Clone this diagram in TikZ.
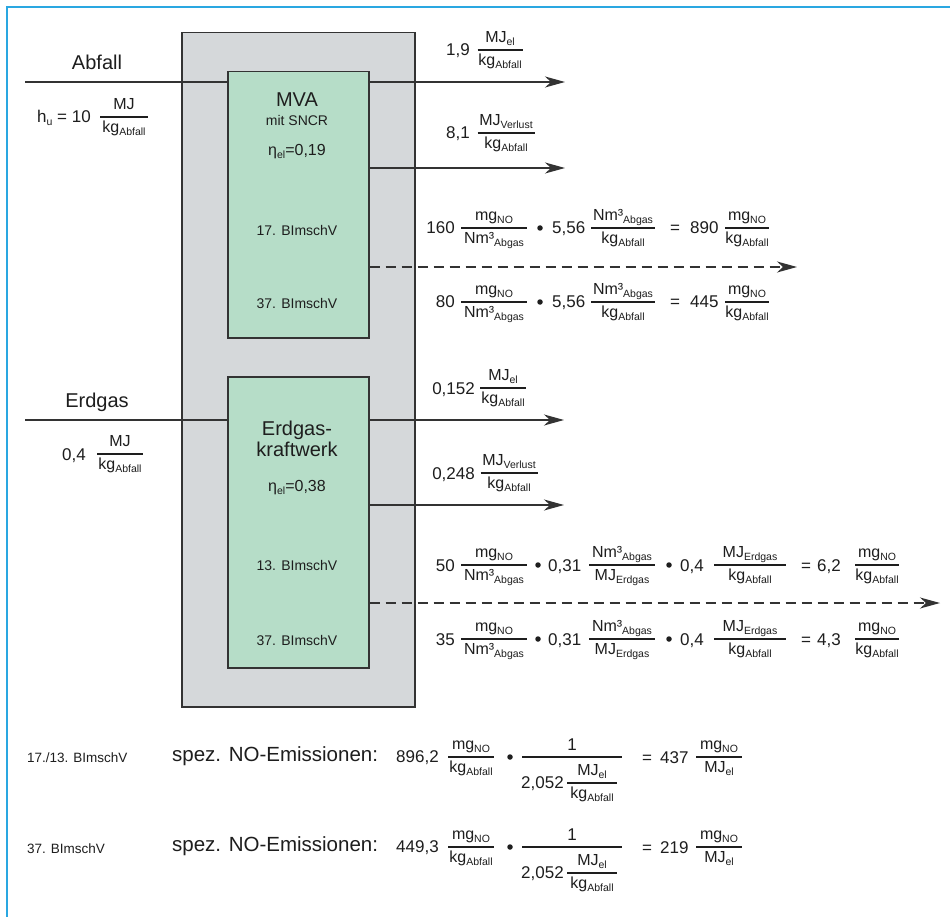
\documentclass[tikz,border=0pt]{standalone}
\usepackage{fontspec}
\setmainfont{Liberation Sans}
\usetikzlibrary{arrows.meta,calc}
\definecolor{frameblue}{HTML}{2AA7E1}
\definecolor{plantgray}{HTML}{D5D8DA}
\definecolor{boxgreen}{HTML}{B6DDC8}
\definecolor{edgegray}{HTML}{333333}
\definecolor{ink}{HTML}{1E1E1E}
\newcommand{\sub}[1]{\raisebox{-3pt}{\fontsize{10.5}{12}\selectfont #1}}
\newcommand{\fr}[3]{{\renewcommand\arraystretch{0}\setlength\arrayrulewidth{1.2pt}\fontsize{16}{18}\selectfont\begin{tabular}{@{}c@{}}\rule[-7pt]{0pt}{29pt}\makebox[#1]{#2}\\\hline\rule[-14.5pt]{0pt}{29pt}\makebox[#1]{#3}\end{tabular}}}
\begin{document}
\begin{tikzpicture}[x=1pt,y=-1pt,
  num/.style={font=\fontsize{17}{20}\selectfont, inner sep=0pt, text=ink},
  fracn/.style={inner sep=0pt, text=ink},
  lbl/.style={font=\fontsize{20}{24}\selectfont, inner sep=0pt, text=ink},
  small/.style={font=\fontsize{14}{17}\selectfont, inner sep=0pt, text=ink},
  dotn/.style={circle, fill=ink, inner sep=0pt, minimum size=5.5pt},
  flow/.style={draw=edgegray, line width=1.4pt, -{Stealth[length=20pt,width=11pt,inset=6pt]}},
  dflow/.style={flow, dash pattern=on 10pt off 6pt},
  inline/.style={draw=edgegray, line width=1.4pt},
  fbar/.style={draw=ink, line width=1.2pt},
  plantbox/.style={draw=edgegray, line width=1.5pt, fill=plantgray, inner sep=0pt, anchor=north west},
  unitbox/.style={draw=edgegray, line width=1.5pt, fill=boxgreen, inner sep=0pt, anchor=north west}]
\useasboundingbox (0,0) rectangle (950,917);
\fill[white] (0,0) rectangle (950,917);
\draw[frameblue, line width=2pt] (950,7) -- (7,7) -- (7,917);

% boxes
\node[plantbox, minimum width=233pt, minimum height=674pt] (plant) at (181,32) {};
\node[unitbox, minimum width=141pt, minimum height=266pt] (mva) at (227,71) {};
\node[unitbox, minimum width=141pt, minimum height=291pt] (ekw) at (227,376) {};

% inputs
\coordinate (inA) at (25,82);
\coordinate (inE) at (25,420);
\draw[inline] (inA) -- (inA -| mva.west);
\draw[inline] (inE) -- (inE -| ekw.west);
\node[lbl] (abfall) at (97,62) {Abfall};
\node[num, anchor=base east] (hu) at (91,123) {h\sub{u} = 10};
\node[fracn] (hufr) at (124,117) {\fr{48pt}{MJ}{kg\sub{Abfall}}};
\node[lbl] (erdgas) at (97,402) {Erdgas};
\node[num, anchor=base east] (e04) at (86,460) {0,4};
\node[fracn] (e04fr) at (120,454) {\fr{46pt}{MJ}{kg\sub{Abfall}}};

% MVA texts
\node[lbl] (mvat) at (297,100) {MVA};
\node[font=\fontsize{14}{16}\selectfont, inner sep=0pt, text=ink] (sncr) at (297,120) {mit SNCR};
\node[font=\fontsize{16}{18}\selectfont, inner sep=0pt, text=ink] (eta1) at (297,152) {η\sub{el}=0,19};
\node[small] (b17) at (297,230) {17. BImschV};
\node[small] (b37a) at (297,303) {37. BImschV};

% EKW texts
\node[lbl] (ekw1) at (297,430) {Erdgas-};
\node[lbl] (ekw2) at (297,449) {kraftwerk};
\node[font=\fontsize{16}{18}\selectfont, inner sep=0pt, text=ink] (eta2) at (297,488) {η\sub{el}=0,38};
\node[small] (b13) at (297,565) {13. BImschV};
\node[small] (b37b) at (297,640) {37. BImschV};

% outputs MVA
\coordinate (o1) at (565,82);
\coordinate (o2) at (565,168);
\coordinate (o3) at (797,267);
\draw[flow] (mva.east |- o1) -- (o1);
\draw[flow] (mva.east |- o2) -- (o2);
\draw[dflow] (mva.east |- o3) -- (o3);
\node[num, anchor=base east] (v19) at (470,56) {1,9};
\node[fracn] (f19) at (500,50) {\fr{45pt}{MJ\sub{el}}{kg\sub{Abfall}}};
\node[num, anchor=base east] (v81) at (470,139) {8,1};
\node[fracn] (f81) at (506,133) {\fr{57pt}{MJ\sub{Verlust}}{kg\sub{Abfall}}};

% row 1
\node[num, anchor=base east] (r1a) at (455,234) {160};
\node[fracn] (r1b) at (494,228) {\fr{66pt}{mg\sub{NO}}{Nm³\sub{Abgas}}};
\node[dotn] (r1c) at (540,228) {};
\node[num, anchor=base west] (r1d) at (552,234) {5,56};
\node[fracn] (r1e) at (623,228) {\fr{64pt}{Nm³\sub{Abgas}}{kg\sub{Abfall}}};
\node[num, anchor=base] (r1f) at (675,234) {=};
\node[num, anchor=base west] (r1g) at (690,234) {890};
\node[fracn] (r1h) at (747,228) {\fr{44pt}{mg\sub{NO}}{kg\sub{Abfall}}};
% row 2
\node[num, anchor=base east] (r2a) at (455,308) {80};
\node[fracn] (r2b) at (494,302) {\fr{66pt}{mg\sub{NO}}{Nm³\sub{Abgas}}};
\node[dotn] (r2c) at (540,302) {};
\node[num, anchor=base west] (r2d) at (552,308) {5,56};
\node[fracn] (r2e) at (623,302) {\fr{64pt}{Nm³\sub{Abgas}}{kg\sub{Abfall}}};
\node[num, anchor=base] (r2f) at (675,308) {=};
\node[num, anchor=base west] (r2g) at (690,308) {445};
\node[fracn] (r2h) at (747,302) {\fr{44pt}{mg\sub{NO}}{kg\sub{Abfall}}};

% outputs EKW
\coordinate (o4) at (564,420);
\coordinate (o5) at (564,505);
\coordinate (o6) at (940,603);
\draw[flow] (ekw.east |- o4) -- (o4);
\draw[flow] (ekw.east |- o5) -- (o5);
\draw[dflow] (ekw.east |- o6) -- (o6);
\node[num, anchor=base east] (v152) at (475,394) {0,152};
\node[fracn] (f152) at (503,388) {\fr{46pt}{MJ\sub{el}}{kg\sub{Abfall}}};
\node[num, anchor=base east] (v248) at (475,479) {0,248};
\node[fracn] (f248) at (509,473) {\fr{57pt}{MJ\sub{Verlust}}{kg\sub{Abfall}}};

% row 3
\node[num, anchor=base east] (r3a) at (455,571) {50};
\node[fracn] (r3b) at (494,565) {\fr{66pt}{mg\sub{NO}}{Nm³\sub{Abgas}}};
\node[dotn] (r3c) at (538,565) {};
\node[num, anchor=base west] (r3d) at (548,571) {0,31};
\node[fracn] (r3e) at (622,565) {\fr{66pt}{Nm³\sub{Abgas}}{MJ\sub{Erdgas}}};
\node[dotn] (r3f) at (669,565) {};
\node[num, anchor=base west] (r3g) at (680,571) {0,4};
\node[fracn] (r3h) at (750,565) {\fr{72pt}{MJ\sub{Erdgas}}{kg\sub{Abfall}}};
\node[num, anchor=base] (r3i) at (806,571) {=};
\node[num, anchor=base west] (r3j) at (817,571) {6,2};
\node[fracn] (r3k) at (877,565) {\fr{44pt}{mg\sub{NO}}{kg\sub{Abfall}}};
% row 4
\node[num, anchor=base east] (r4a) at (455,645) {35};
\node[fracn] (r4b) at (494,639) {\fr{66pt}{mg\sub{NO}}{Nm³\sub{Abgas}}};
\node[dotn] (r4c) at (538,639) {};
\node[num, anchor=base west] (r4d) at (548,645) {0,31};
\node[fracn] (r4e) at (622,639) {\fr{66pt}{Nm³\sub{Abgas}}{MJ\sub{Erdgas}}};
\node[dotn] (r4f) at (669,639) {};
\node[num, anchor=base west] (r4g) at (680,645) {0,4};
\node[fracn] (r4h) at (750,639) {\fr{72pt}{MJ\sub{Erdgas}}{kg\sub{Abfall}}};
\node[num, anchor=base] (r4i) at (806,645) {=};
\node[num, anchor=base west] (r4j) at (817,645) {4,3};
\node[fracn] (r4k) at (877,639) {\fr{44pt}{mg\sub{NO}}{kg\sub{Abfall}}};

% bottom row A
\node[font=\fontsize{13.5}{16}\selectfont, inner sep=0pt, text=ink, anchor=west] (ra0) at (27,758) {17./13. BImschV};
\node[font=\fontsize{20.5}{24}\selectfont, inner sep=0pt, text=ink, anchor=base west] (ra1) at (172,761) {spez. NO-Emissionen:};
\node[num, anchor=base west] (ra2) at (396,762) {896,2};
\node[fracn] (ra3) at (471,757) {\fr{46pt}{mg\sub{NO}}{kg\sub{Abfall}}};
\node[dotn] (ra4) at (510,757) {};
\coordinate (raL) at (522,757);
\coordinate (raR) at (622,757);
\draw[fbar] (raL) -- (raR);
\node[num, anchor=base] (ra5) at (572,750) {1};
\node[num, anchor=base west] (ra6) at (521,788) {2,052};
\node[fracn] (ra7) at (592,783) {\fr{50pt}{MJ\sub{el}}{kg\sub{Abfall}}};
\node[num, anchor=base] (ra8) at (647,763) {=};
\node[num, anchor=base west] (ra9) at (660,763) {437};
\node[fracn] (ra10) at (719,757) {\fr{46pt}{mg\sub{NO}}{MJ\sub{el}}};

% bottom row B
\node[font=\fontsize{13.5}{16}\selectfont, inner sep=0pt, text=ink, anchor=west] (rb0) at (27,849) {37. BImschV};
\node[font=\fontsize{20.5}{24}\selectfont, inner sep=0pt, text=ink, anchor=base west] (rb1) at (172,851) {spez. NO-Emissionen:};
\node[num, anchor=base west] (rb2) at (396,852) {449,3};
\node[fracn] (rb3) at (471,847) {\fr{46pt}{mg\sub{NO}}{kg\sub{Abfall}}};
\node[dotn] (rb4) at (510,847) {};
\coordinate (rbL) at (522,847);
\coordinate (rbR) at (622,847);
\draw[fbar] (rbL) -- (rbR);
\node[num, anchor=base] (rb5) at (572,840) {1};
\node[num, anchor=base west] (rb6) at (521,878) {2,052};
\node[fracn] (rb7) at (592,873) {\fr{50pt}{MJ\sub{el}}{kg\sub{Abfall}}};
\node[num, anchor=base] (rb8) at (647,853) {=};
\node[num, anchor=base west] (rb9) at (660,853) {219};
\node[fracn] (rb10) at (719,847) {\fr{46pt}{mg\sub{NO}}{MJ\sub{el}}};
\end{tikzpicture}
\end{document}
